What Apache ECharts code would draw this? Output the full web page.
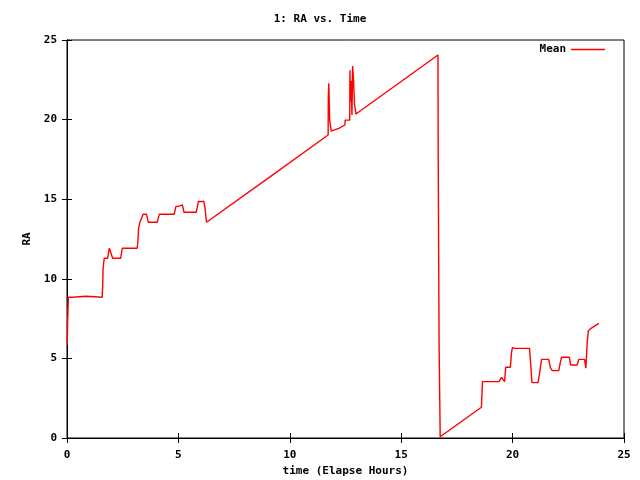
<!DOCTYPE html>
<html>
<head>
<meta charset="utf-8">
<script src="https://cdn.jsdelivr.net/npm/echarts@6/dist/echarts.min.js"></script>
<style>html,body{margin:0;padding:0;background:#fff}#c{width:640px;height:480px}</style>
</head>
<body>
<div id="c"></div>
<script>
var titleText = '1: RA vs. Time';
var xLabel = 'time (Elapse Hours)';
var yLabel = 'RA';
var seriesName = 'Mean';
var hours = [0.01,0.03,0.06,0.25,0.27,0.85,0.87,1.58,1.60,1.62,1.67,1.82,1.90,1.97,2.05,2.41,2.48,3.15,3.18,3.21,3.27,3.35,3.42,3.57,3.65,4.05,4.14,4.81,4.89,5.0,5.02,5.18,5.25,5.8,5.9,6.14,6.19,6.26,9.0,11.72,11.73,11.75,11.79,11.86,12.2,12.47,12.49,12.69,12.70,12.72,12.75,12.79,12.82,12.86,12.90,12.97,16.65,16.66,16.70,16.75,18.6,18.65,19.39,19.5,19.58,19.64,19.69,19.9,19.95,19.99,20.05,20.12,20.76,20.87,21.14,21.21,21.30,21.62,21.70,21.78,22.07,22.15,22.2,22.55,22.6,22.9,22.97,23.23,23.29,23.31,23.35,23.40,23.52,23.87];
var raMean = [5.84,7.35,8.84,8.84,8.9,8.9,8.84,8.84,9.44,10.66,11.29,11.29,11.92,11.92,11.29,11.29,11.92,11.92,12.33,13.13,13.55,13.55,14.05,14.05,13.55,13.55,14.05,14.05,14.55,14.55,14.64,14.64,14.18,14.18,14.86,14.86,14.49,13.55,16.29,19.03,21.44,22.28,19.97,19.28,19.45,19.66,19.97,19.97,23.1,21.12,22.44,20.29,23.37,22.53,21.02,20.35,24.06,18.09,5.99,0.08,1.93,3.54,3.54,3.81,3.81,3.54,4.44,4.44,5.36,5.67,5.75,5.63,5.63,3.48,3.48,4.06,4.94,4.94,4.4,4.23,4.23,4.8,5.07,5.07,4.59,4.59,4.94,4.94,4.38,4.94,6.05,6.74,6.89,7.2];
var xTicks = [0,5,10,15,20,25];
var yTicks = [0,5,10,15,20,25];

var font = '"DejaVu Sans Mono", "Liberation Mono", monospace';
var pts = hours.map(function(h,i){return [h, raMean[i]];});
var chart = echarts.init(document.getElementById('c'), null, {renderer:'canvas'});
function baseAxis(pos, isX, showLabels){
  return {
    type:'value', position:pos, min:xTicks[0], max:xTicks[xTicks.length-1], interval:5,
    axisLine:{show:true, lineStyle:{color:'#000', width:1}},
    axisTick:{show:true, inside:true, length:5, lineStyle:{color:'#000'}},
    axisLabel:{show:showLabels, color:'#000', fontFamily:font, fontWeight:'bold', fontSize:11, margin:isX?12:10},
    splitLine:{show:false}
  };
}
var xa = baseAxis('bottom', true, true);
xa.name = xLabel; xa.nameLocation='middle'; xa.nameGap=28;
xa.nameTextStyle={color:'#000', fontFamily:font, fontWeight:'bold', fontSize:11};
var xb = baseAxis('top', true, false);
var ya = baseAxis('left', false, true);
ya.min = yTicks[0]; ya.max = yTicks[yTicks.length-1];
ya.name = yLabel; ya.nameLocation='middle'; ya.nameGap=34; ya.nameRotate=90;
ya.nameTextStyle={color:'#000', fontFamily:font, fontWeight:'bold', fontSize:11};
var yb = baseAxis('right', false, false);
yb.min = yTicks[0]; yb.max = yTicks[yTicks.length-1];
chart.setOption({
  animation:false,
  backgroundColor:'#fff',
  title:{text:titleText, left:'center', top:9, textStyle:{color:'#000', fontFamily:font, fontWeight:'bold', fontSize:11}},
  legend:{data:[seriesName], right:30, top:39, align:'right', icon:'rect', itemWidth:34, itemHeight:1.5, itemGap:6,
    textStyle:{color:'#000', fontFamily:font, fontWeight:'bold', fontSize:11}},
  grid:{left:67, right:16, top:40, bottom:42, containLabel:false, outerBoundsMode:'none', show:true, borderColor:'#000', borderWidth:1},
  xAxis:[xa, xb],
  yAxis:[ya, yb],
  series:[{name:seriesName, type:'line', data:pts, xAxisIndex:0, yAxisIndex:0, showSymbol:false, symbol:'none',
    lineStyle:{color:'#ff0000', width:1.4}, itemStyle:{color:'#ff0000'}}]
});
</script>
</body>
</html>
